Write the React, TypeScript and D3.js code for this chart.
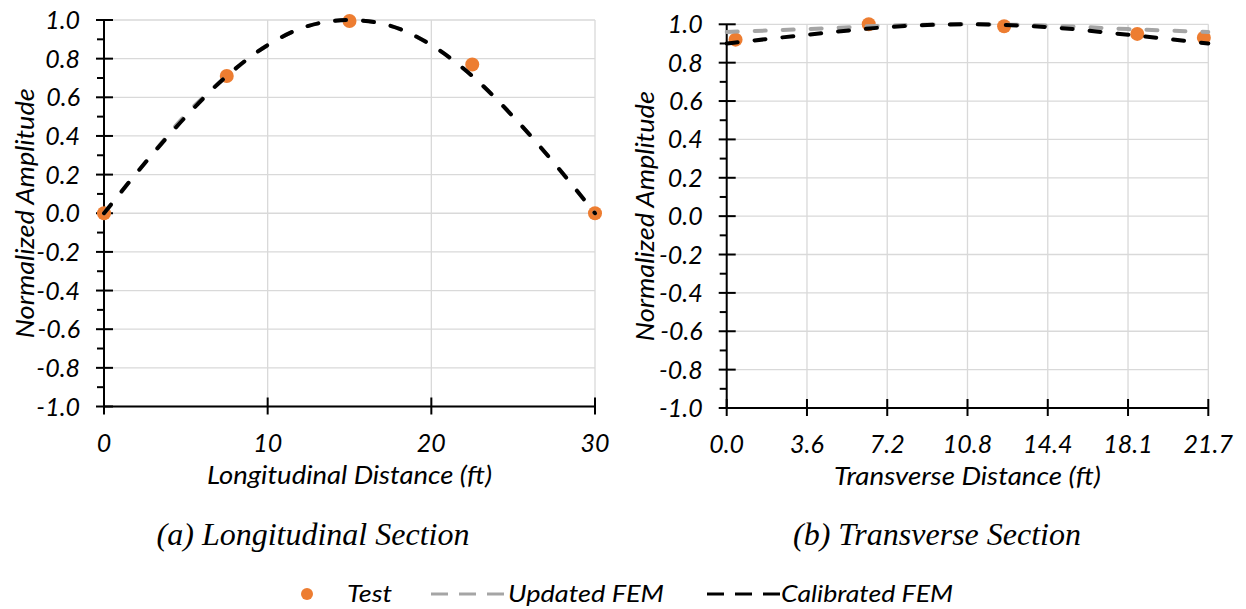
import React from "react";
import * as d3 from "d3";

// ---------- data ----------
const yTickValues = [-1, -0.8, -0.6, -0.4, -0.2, 0, 0.2, 0.4, 0.6, 0.8, 1];
const yMinorValues = [-0.9, -0.7, -0.5, -0.3, -0.1, 0.1, 0.3, 0.5, 0.7, 0.9];

const leftXTicks = [0, 10, 20, 30];
const leftXTickLabels = ["0", "10", "20", "30"];

const rightXTicks = [0, 3.6167, 7.2333, 10.85, 14.4667, 18.0833, 21.7];
const rightXTickLabels = ["0.0", "3.6", "7.2", "10.8", "14.4", "18.1", "21.7"];

// Longitudinal section
const leftFemX = [0, 2.5, 5, 7.5, 10, 12.5, 15, 17.5, 20, 22.5, 25, 27.5, 30];
const leftUpdated = [0, 0.26, 0.51, 0.71, 0.87, 0.97, 1.0, 0.97, 0.87, 0.71, 0.5, 0.26, 0];
const leftCalibrated = [0, 0.26, 0.5, 0.71, 0.87, 0.97, 1.0, 0.97, 0.87, 0.71, 0.5, 0.26, 0];
const leftTestX = [0, 7.5, 15, 22.5, 30];
const leftTestY = [0, 0.71, 0.995, 0.77, 0];

// Transverse section
const rightFemX = [0, 3.6, 7.2, 10.85, 14.5, 18.1, 21.7];
const rightUpdated = [0.96, 0.975, 0.993, 1.0, 0.993, 0.975, 0.96];
const rightCalibrated = [0.9, 0.945, 0.985, 1.0, 0.985, 0.945, 0.9];
const rightTestX = [0.4, 6.4, 12.5, 18.5, 21.5];
const rightTestY = [0.92, 1.0, 0.99, 0.95, 0.93];

// ---------- styles ----------
const ORANGE = "#ED7D31";
const GREY = "#A5A5A5";
const GRID = "#D9D9D9";
const FONT = "Lato, 'Open Sans', sans-serif";
const SERIF = "'Liberation Serif', 'DejaVu Serif', serif";

type PanelProps = {
  left: number;
  right: number;
  top: number;
  bottom: number;
  xMax: number;
  xTicks: number[];
  xTickLabels: string[];
  femX: number[];
  updated: number[];
  calibrated: number[];
  testX: number[];
  testY: number[];
  xTitle: string;
  xTitleLen: number;
  yTitleX: number;
  caption: string;
  captionX: number;
};

function Panel(p: PanelProps) {
  const x = d3.scaleLinear().domain([0, p.xMax]).range([p.left, p.right]);
  const y = d3.scaleLinear().domain([-1, 1]).range([p.bottom, p.top]);
  const line = d3
    .line<[number, number]>()
    .x((d) => x(d[0]))
    .y((d) => y(d[1]))
    .curve(d3.curveMonotoneX);
  const upd = p.femX.map((v, i) => [v, p.updated[i]] as [number, number]);
  const cal = p.femX.map((v, i) => [v, p.calibrated[i]] as [number, number]);
  const x0 = x(0);
  const yBase = y(-1);
  const cx = (p.left + p.right) / 2;
  const cy = (p.top + p.bottom) / 2;
  return (
    <g>
      {/* grid */}
      {yTickValues.map((v) => (
        <line key={"gy" + v} x1={p.left} x2={p.right} y1={y(v)} y2={y(v)} stroke={GRID} strokeWidth={1.3} />
      ))}
      {p.xTicks.map((v) => (
        <line key={"gx" + v} x1={x(v)} x2={x(v)} y1={p.top} y2={p.bottom} stroke={GRID} strokeWidth={1.3} />
      ))}
      {/* axes */}
      <line x1={x0} x2={x0} y1={p.top} y2={p.bottom} stroke="#000" strokeWidth={2} />
      <line x1={p.left} x2={p.right} y1={yBase} y2={yBase} stroke="#000" strokeWidth={2} />
      {yTickValues.map((v) => (
        <line key={"ty" + v} x1={x0 - 8} x2={x0 + 9} y1={y(v)} y2={y(v)} stroke="#000" strokeWidth={2} />
      ))}
      {yMinorValues.map((v) => (
        <line key={"my" + v} x1={x0 - 7} x2={x0} y1={y(v)} y2={y(v)} stroke="#000" strokeWidth={2} />
      ))}
      {p.xTicks.map((v) => (
        <line key={"tx" + v} x1={x(v)} x2={x(v)} y1={yBase - 9} y2={yBase + 8} stroke="#000" strokeWidth={2} />
      ))}
      {/* tick labels */}
      {yTickValues.map((v) => (
        <text
          key={"ly" + v}
          x={x0 - 24}
          y={y(v)}
          dy="0.36em"
          textAnchor="end"
          fontFamily={FONT}
          fontStyle="italic"
          fontSize={25}
          fill="#000"
        >
          {v.toFixed(1)}
        </text>
      ))}
      {p.xTicks.map((v, i) => (
        <text
          key={"lx" + v}
          x={x(v)}
          y={yBase + 45}
          textAnchor="middle"
          fontFamily={FONT}
          fontStyle="italic"
          fontSize={25}
          fill="#000"
        >
          {p.xTickLabels[i]}
        </text>
      ))}
      {/* titles */}
      <text
        x={cx - p.xTitleLen / 2}
        y={yBase + 77}
        textLength={p.xTitleLen}
        lengthAdjust="spacingAndGlyphs"
        fontFamily={FONT}
        fontStyle="italic"
        fontSize={26}
        fill="#000"
      >
        {p.xTitle}
      </text>
      <text
        transform={`translate(${p.yTitleX},${cy}) rotate(-90)`}
        x={-125}
        textLength={250}
        lengthAdjust="spacingAndGlyphs"
        dy="0.36em"
        fontFamily={FONT}
        fontStyle="italic"
        fontSize={26}
        fill="#000"
      >
        Normalized Amplitude
      </text>
      <text x={p.captionX} y={545} textAnchor="middle" fontFamily={SERIF} fontStyle="italic" fontSize={32} fill="#000">
        {p.caption}
      </text>
      {/* series */}
      {p.testX.map((v, i) => (
        <circle key={"pt" + i} cx={x(v)} cy={y(p.testY[i])} r={7} fill={ORANGE} />
      ))}
      <path
        d={line(upd) || ""}
        fill="none"
        stroke={GREY}
        strokeWidth={4}
        strokeLinecap="round"
        strokeDasharray="11,17"
      />
      <path
        d={line(cal) || ""}
        fill="none"
        stroke="#000"
        strokeWidth={4}
        strokeLinecap="round"
        strokeDasharray="11,17"
      />
    </g>
  );
}

export default function App() {
  return (
    <svg
      width={1246}
      height={609}
      style={{ position: "absolute", left: 0, top: 0, background: "#fff" }}
    >
      <rect x={0} y={0} width={1246} height={609} fill="#fff" />
      <Panel
        left={104}
        right={595}
        top={20}
        bottom={406.5}
        xMax={30}
        xTicks={leftXTicks}
        xTickLabels={leftXTickLabels}
        femX={leftFemX}
        updated={leftUpdated}
        calibrated={leftCalibrated}
        testX={leftTestX}
        testY={leftTestY}
        xTitle="Longitudinal Distance (ft)"
        xTitleLen={285}
        yTitleX={25}
        caption="(a) Longitudinal Section"
        captionX={313}
      />
      <Panel
        left={726.7}
        right={1208.3}
        top={24.3}
        bottom={408}
        xMax={21.7}
        xTicks={rightXTicks}
        xTickLabels={rightXTickLabels}
        femX={rightFemX}
        updated={rightUpdated}
        calibrated={rightCalibrated}
        testX={rightTestX}
        testY={rightTestY}
        xTitle="Transverse Distance (ft)"
        xTitleLen={267}
        yTitleX={645}
        caption="(b) Transverse Section"
        captionX={937}
      />
      {/* legend */}
      <g fontFamily={FONT} fontStyle="italic" fontSize={23} fill="#000">
        <circle cx={307} cy={594} r={6} fill={ORANGE} />
        <text x={347} y={602} textLength={45} lengthAdjust="spacingAndGlyphs">Test</text>
        <line x1={431} x2={504} y1={594} y2={594} stroke={GREY} strokeWidth={3} strokeDasharray="17,11" />
        <text x={508} y={602} textLength={156} lengthAdjust="spacingAndGlyphs">Updated FEM</text>
        <line x1={707} x2={780} y1={594} y2={594} stroke="#000" strokeWidth={3} strokeDasharray="17,11" />
        <text x={781} y={602} textLength={172} lengthAdjust="spacingAndGlyphs">Calibrated FEM</text>
      </g>
    </svg>
  );
}
